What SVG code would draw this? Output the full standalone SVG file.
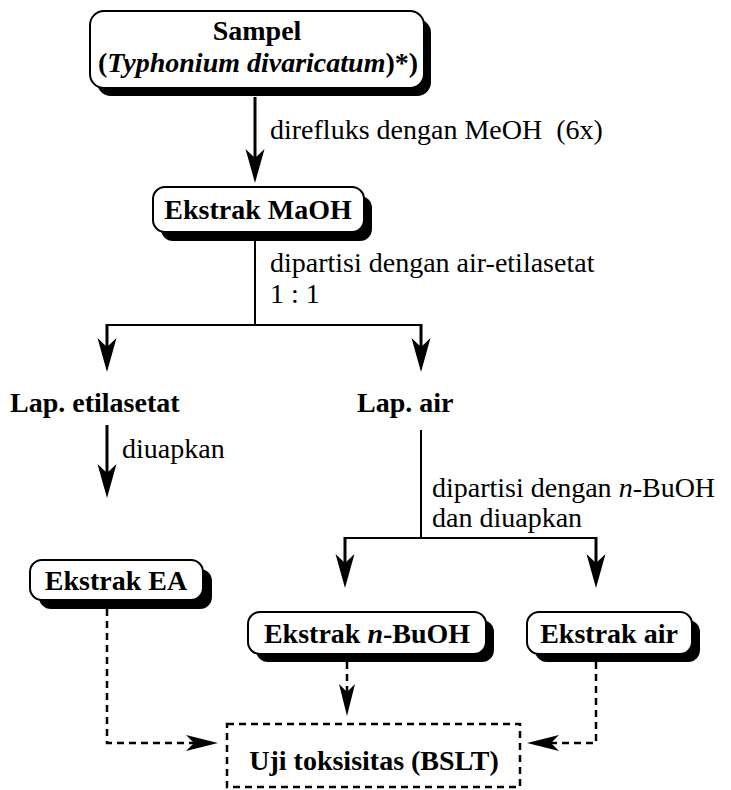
<svg xmlns="http://www.w3.org/2000/svg" width="731" height="790" viewBox="0 0 731 790">
<style>
text{font-family:"Liberation Serif","Times New Roman",serif;font-size:28px;fill:#000}
.b{font-weight:bold}
.bi{font-weight:bold;font-style:italic}
.i{font-style:italic}
.box{fill:#fff;stroke:#000;stroke-width:2}
.sh{fill:#000}
.solid{fill:none;stroke:#000;stroke-width:3}
.thin{fill:none;stroke:#000;stroke-width:2}
.dash{fill:none;stroke:#000;stroke-width:2.5;stroke-dasharray:7 5}
</style>
<defs>
<marker id="ah" markerUnits="userSpaceOnUse" markerWidth="40" markerHeight="24" viewBox="-24 -12 40 24" refX="0" refY="0" orient="auto" overflow="visible">
<path d="M12,0 L-22,-9.5 L-13,0 L-22,9.5 Z" fill="#000"/>
</marker>
<marker id="ahd" markerUnits="userSpaceOnUse" markerWidth="40" markerHeight="24" viewBox="-24 -12 40 24" refX="0" refY="0" orient="auto" overflow="visible">
<path d="M10,0 L-22,-8 L-14,0 L-22,8 Z" fill="#000"/>
</marker>
</defs>

<g id="connectors">
<path class="solid" d="M255,97 V171" marker-end="url(#ah)"/>
<path class="thin" d="M255,241 V325"/>
<path class="thin" d="M107,325 H421"/>
<path class="solid" d="M107,324 V360" marker-end="url(#ah)"/>
<path class="solid" d="M421,324 V360" marker-end="url(#ah)"/>
<path class="solid" d="M107,425 V486" marker-end="url(#ah)"/>
<path class="thin" d="M421,430 V538"/>
<path class="thin" d="M345,538 H597"/>
<path class="solid" d="M345,537 V576" marker-end="url(#ah)"/>
<path class="solid" d="M596,537 V576" marker-end="url(#ah)"/>
<path class="dash" d="M107,609 V743 H208" marker-end="url(#ahd)"/>
<path class="dash" d="M347,662 V706" marker-end="url(#ahd)"/>
<path class="dash" d="M596,662 V743 H537" marker-end="url(#ahd)"/>
</g>

<g id="n-sampel">
<rect class="sh" x="97" y="19" width="334" height="77" rx="14"/>
<rect class="box" x="90" y="11" width="334" height="77" rx="14"/>
<text class="b" x="257" y="40" text-anchor="middle">Sampel</text>
<text class="b" x="258" y="72" text-anchor="middle">(<tspan class="bi">Typhonium divaricatum</tspan>)*)</text>
</g>

<g id="l-direfluks">
<text x="270" y="139" xml:space="preserve">direfluks dengan MeOH  (6x)</text>
</g>

<g id="n-maoh">
<rect class="sh" x="161" y="196" width="211" height="45" rx="12"/>
<rect class="box" x="153" y="187" width="211" height="45" rx="12"/>
<text class="b" x="258" y="219" text-anchor="middle">Ekstrak MaOH</text>
</g>

<g id="l-partisi1">
<text x="270" y="272">dipartisi dengan air-etilasetat</text>
<text x="270" y="303">1 : 1</text>
</g>

<g id="n-lapea">
<text class="b" x="10" y="412">Lap. etilasetat</text>
</g>

<g id="n-lapair">
<text class="b" x="357" y="412">Lap. air</text>
</g>

<g id="l-diuapkan">
<text x="122" y="458">diuapkan</text>
</g>

<g id="l-partisi2">
<text x="432" y="497">dipartisi dengan <tspan class="i">n</tspan>-BuOH</text>
<text x="432" y="527">dan diuapkan</text>
</g>

<g id="n-ea">
<rect class="sh" x="39" y="569" width="173" height="40" rx="12"/>
<rect class="box" x="30" y="560" width="173" height="40" rx="12"/>
<text class="b" x="116" y="590" text-anchor="middle">Ekstrak EA</text>
</g>

<g id="n-buoh">
<rect class="sh" x="256" y="620" width="238" height="42" rx="12"/>
<rect class="box" x="248" y="612" width="238" height="42" rx="12"/>
<text class="b" x="367" y="643" text-anchor="middle">Ekstrak <tspan class="bi">n</tspan>-BuOH</text>
</g>

<g id="n-air">
<rect class="sh" x="535" y="620" width="165" height="42" rx="12"/>
<rect class="box" x="527" y="612" width="165" height="42" rx="12"/>
<text class="b" x="609" y="643" text-anchor="middle">Ekstrak air</text>
</g>

<g id="n-uji">
<rect fill="#fff" stroke="#000" stroke-width="2.5" stroke-dasharray="7 5" x="227" y="724" width="293" height="63"/>
<text class="b" x="374" y="770" text-anchor="middle">Uji toksisitas (BSLT)</text>
</g>
</svg>
